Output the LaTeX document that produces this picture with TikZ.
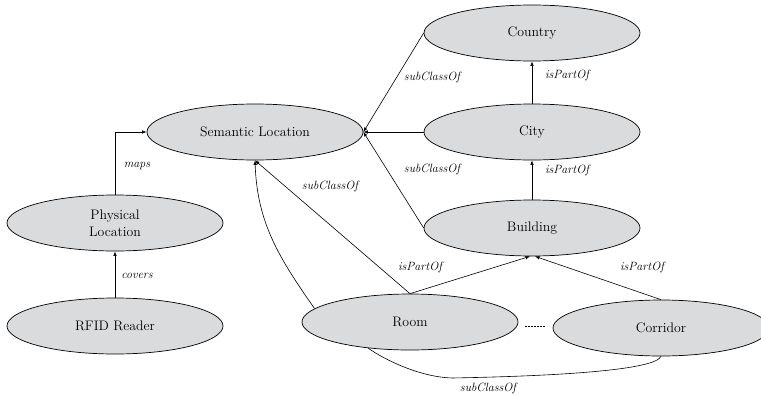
\documentclass[tikz,border=0pt]{standalone}
\usetikzlibrary{shapes.geometric,arrows.meta}
\definecolor{nodefill}{RGB}{218,219,221}
\begin{document}
\begin{tikzpicture}[x=1pt,y=-1pt,
  concept/.style={ellipse,draw=black,line width=0.7pt,fill=nodefill,
    minimum width=216pt,minimum height=56pt,inner sep=0pt,align=center,
    font=\fontsize{13.8}{17}\selectfont},
  rel/.style={font=\fontsize{12}{13}\selectfont\itshape},
  link/.style={line width=0.6pt},
  arr/.style={link,-{Latex[length=4.5pt,width=3.5pt]}}]
\useasboundingbox (0,0) rectangle (761,397);

% concepts
\node[concept] (sem)      at (255,132) {Semantic Location};
\node[concept] (phys)     at (115,223) {Physical\\Location};
\node[concept] (rfid)     at (115,326) {RFID Reader};
\node[concept] (country)  at (532,33)  {Country};
\node[concept] (city)     at (532,132) {City};
\node[concept] (building) at (532,228) {Building};
\node[concept] (room)     at (410,322) {Room};
\node[concept] (corridor) at (661,328) {Corridor};

% left chain
\draw[arr] (phys.north) |- (sem.west);
\draw[arr] (rfid.north) -- (phys.south);
\node[rel] (lmaps)   at (137,166) {maps};
\node[rel] (lcovers) at (137,276) {covers};

% subclasses of Semantic Location
\draw[arr] (country.west)  -- (sem.east);
\draw[arr] (city.west)     -- (sem.east);
\draw[arr] (building.west) -- (sem.east);
\node[rel] (lsc1) at (432,77)  {subClassOf};
\node[rel] (lsc2) at (432,169) {subClassOf};

% part-of hierarchy
\draw[arr] (city.north)     -- (country.south);
\draw[arr] (building.north) -- (city.south);
\node[rel] (lpo1) at (567,75)  {isPartOf};
\node[rel] (lpo2) at (567,170) {isPartOf};

% room and corridor
\draw[arr] (room.north) -- (sem.south);
\draw[arr] (room.172) to[out=125,in=-88] (sem.south);
\node[rel] (lsc3) at (330,186) {subClassOf};

\draw[arr] (room.north) -- ([xshift=-2pt]building.south);
\draw[arr] (corridor.north) -- ([xshift=3pt]building.south);
\node[rel] (lpo3) at (420,267) {isPartOf};
\node[rel] (lpo4) at (642,267) {isPartOf};

\coordinate (dl) at (525,326);
\coordinate (dr) at (545,326);
\draw[link,dash pattern=on 2pt off 1pt] (dl) -- (dr);

\draw[link] (room.212) .. controls (385,360) and (420,377) .. (452,378)
  .. controls (560,376) and (655,370) .. (corridor.south);
\node[rel] (lsc4) at (488,388) {subClassOf};
\end{tikzpicture}
\end{document}
